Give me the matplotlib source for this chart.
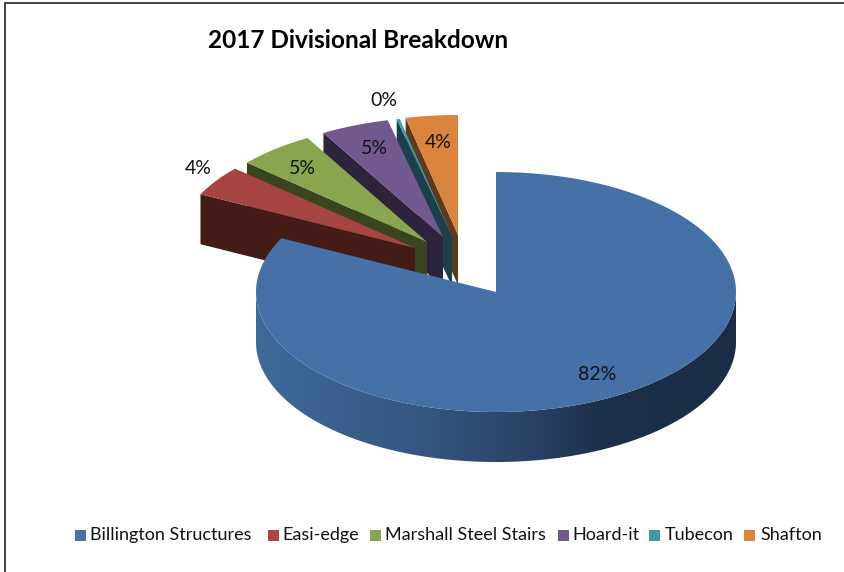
import numpy as np
import matplotlib
matplotlib.use("Agg")
import matplotlib.pyplot as plt
from matplotlib.colors import LinearSegmentedColormap
from matplotlib.patches import Polygon, Rectangle

plt.rcParams["font.family"] = ["Lato", "DejaVu Sans"]

title = "2017 Divisional Breakdown"
divisions = ["Billington Structures", "Easi-edge", "Marshall Steel Stairs",
             "Hoard-it", "Tubecon", "Shafton"]
shares = [82.4, 4.1, 5.2, 4.6, 0.2, 3.5]

top_colors = ["#4571a7", "#a64441", "#89a54e", "#71588f", "#4198af", "#db843d"]
wall_colors = [None, "#451b18", "#39451e", "#2d233c", "#1b404c", "#5e3a1a"]
legend_colors = ["#4572a7", "#aa4643", "#89a54e", "#71588f", "#4198af", "#db843d"]

# where each slice's tip sits, the exploded ones don't move radially
tips = [(496, 292), (415, 248), (427, 242), (443, 237), (452, 236), (458, 235)]
label_pos = [(597, 375), (198, 168), (302, 168), (374, 149), (384, 100), (438, 142)]
legend_square_x = [75, 268, 370, 558, 649, 744]
legend_text_x = [90, 282, 385, 572, 665, 760]
RX, RY = 240, 120
DEPTH = 50


def arc(tip, a0, a1):
    # angles clockwise from 12 o'clock, squashed to the pie's tilt
    t = np.radians(np.linspace(a0, a1, 200))
    return np.column_stack([tip[0] + RX * np.sin(t), tip[1] - RY * np.cos(t)])


fig = plt.figure(figsize=(8.45, 5.72), dpi=100)
ax = fig.add_axes([0, 0, 1, 1])
ax.axis("off")

edges = 360 * np.cumsum([0] + shares) / sum(shares)

# back to front: Shafton first, the big slice last
for i in range(len(shares) - 1, 0, -1):
    tip = np.array(tips[i], dtype=float)
    outer = arc(tip, edges[i], edges[i + 1])
    start = outer[0]
    wall = [tip, start, start + [0, DEPTH], tip + [0, DEPTH]]
    ax.add_patch(Polygon(wall, closed=True, fc=wall_colors[i], ec="none", zorder=i * -2 + 20))
    ax.add_patch(Polygon(np.vstack([tip, outer]), closed=True, fc=top_colors[i], ec="none",
                         zorder=i * -2 + 21))

tip = np.array(tips[0], dtype=float)
rim = arc(tip, 90, 270)
wall_shape = np.vstack([rim, (rim + [0, DEPTH])[::-1]])
wall_patch = Polygon(wall_shape, closed=True, fc="none", ec="none", zorder=30)
ax.add_patch(wall_patch)
shade = LinearSegmentedColormap.from_list(
    "wall", [(0, "#3d6a99"), (0.3, "#365a85"), (0.55, "#2a4568"), (0.72, "#1c304c"), (1, "#1a2d45")])
im = ax.imshow(np.linspace(0, 1, 256).reshape(1, -1), cmap=shade, aspect="auto",
               extent=(256, 736, 470, 280), zorder=30)
im.set_clip_path(wall_patch)
ax.set_xlim(0, 845)
ax.set_ylim(572, 0)

ax.add_patch(Polygon(np.vstack([tip, arc(tip, edges[0], edges[1])]), closed=True,
                     fc=top_colors[0], ec="none", zorder=31))

for share, pos in zip(shares, label_pos):
    ax.text(pos[0], pos[1], f"{round(share)}%", ha="center", va="center",
            fontsize=14, color="#111111", zorder=40)

ax.text(358, 40, title, ha="center", va="center", fontsize=17.6, fontweight="bold", zorder=40)

# legend laid out by hand, its gaps are uneven in the original
for name, color, sx, tx in zip(divisions, legend_colors, legend_square_x, legend_text_x):
    ax.add_patch(Rectangle((sx, 530), 11, 11, fc=color, ec="none", zorder=40))
    ax.text(tx, 535, name, ha="left", va="center", fontsize=13, color="#111111", zorder=40)

# black frame of the chart box, open on the right
ax.plot([5, 5, 845], [572, 3, 3], color="#222222", lw=1.2, zorder=50, solid_joinstyle="miter")

fig.savefig("out.png", dpi=100)
